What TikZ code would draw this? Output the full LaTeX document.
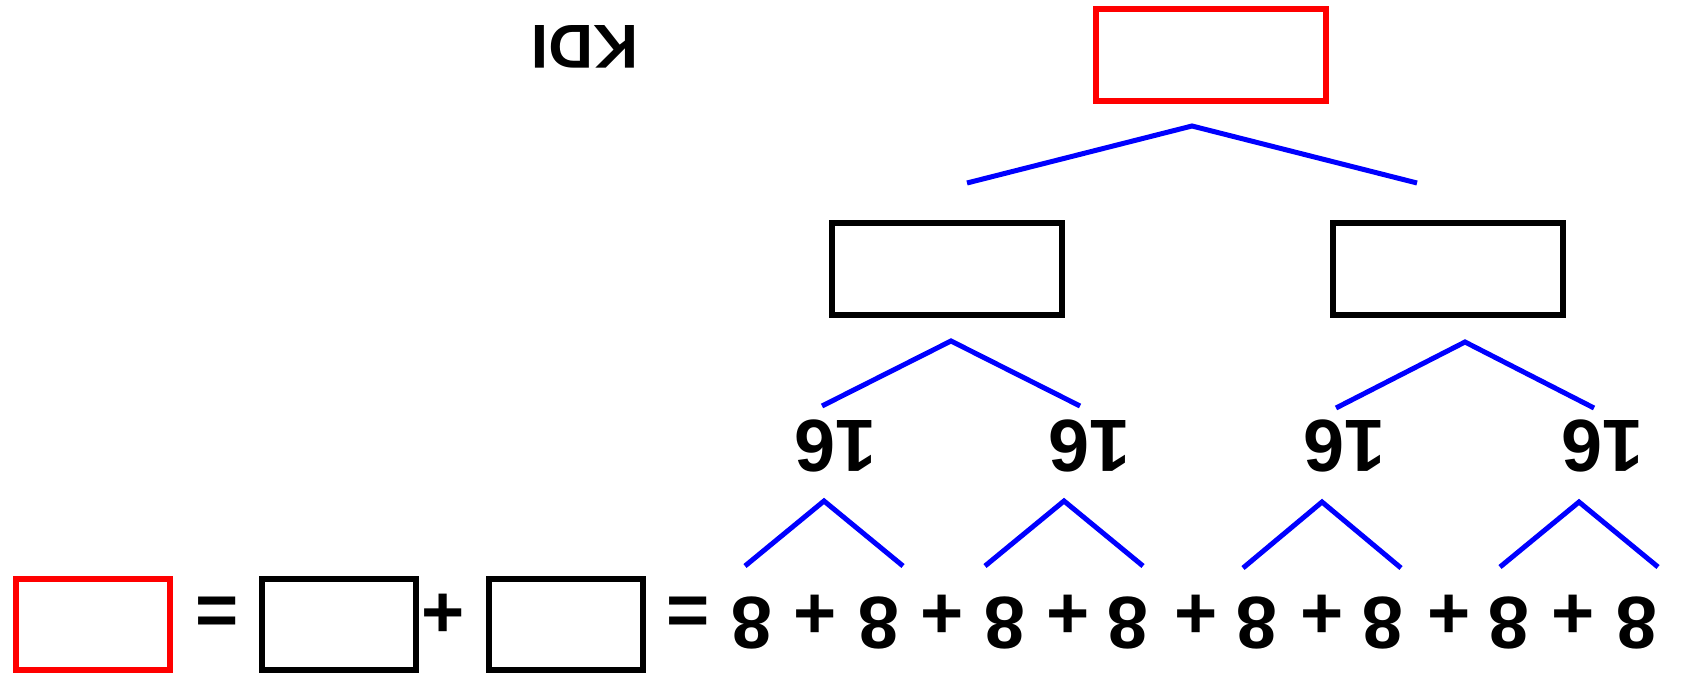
\documentclass[tikz,border=0pt]{standalone}
\usepackage{fontspec}
\setmainfont{Liberation Sans}
\usetikzlibrary{positioning}
\definecolor{boxred}{HTML}{FF0000}
\definecolor{branchblue}{HTML}{0000FF}

\begin{document}
\begin{tikzpicture}[x=1pt, y=-1pt,
        blank/.style={rectangle, draw, line width=6pt, inner sep=0pt, minimum width=230pt, minimum height=92pt},
        smallblank/.style={blank, minimum width=154pt, minimum height=91pt},
        sym/.style={inner sep=0pt, font=\fontsize{74}{84}\selectfont\bfseries},
        flipnum/.style={sym, rotate=180},
        branch/.style={draw=branchblue, line width=5pt}]
    \useasboundingbox (0,0) rectangle (1685,684);

    % top of the tree
    \node[flipnum, font=\fontsize{62}{70}\selectfont\bfseries] (unit) at (585,47) {KDI};
    \node[blank, draw=boxred] (whole) at (1211,55) {};
    \node[blank] (halfL) at (947,269) {};
    \node[blank] (halfR) at (1448,269) {};

    % quarters
    \foreach \x [count=\i] in {835,1089,1344,1602}
        \node[flipnum] (q\i) at (\x,446) {16};

    % branches
    \foreach \n/\ax/\ay/\dx/\dy in {T/1192/126/225/57, L/951/341/129/65, R/1465/342/129/66,
            A/824/501/79/65, B/1064/501/79/65, C/1322/502/79/66, D/1579/502/79/65} {
        \coordinate (br\n) at (\ax,\ay);
        \coordinate (br\n-l) at (\ax-\dx,\ay+\dy);
        \coordinate (br\n-r) at (\ax+\dx,\ay+\dy);
        \draw[branch] (br\n-l) -- (br\n) -- (br\n-r);
    }

    % bottom row
    \node[smallblank, draw=boxred] (total) at (93,624.5) {};
    \node[sym] (eqA) at (217,616) {=};
    \node[smallblank] (partA) at (339,624.5) {};
    \node[sym] (plusA) at (443,616) {+};
    \node[smallblank] (partB) at (565.5,624.5) {};
    \node[sym] (eqB) at (688,616) {=};
    \foreach \x [count=\i] in {752,879,1005,1128,1257,1383,1509,1637}
        \node[flipnum] (e\i) at (\x,623) {8};
    \foreach \x [count=\i] in {815,942,1068,1196,1322,1449,1573}
        \node[sym] (p\i) at (\x,616.5) {+};
\end{tikzpicture}
\end{document}
